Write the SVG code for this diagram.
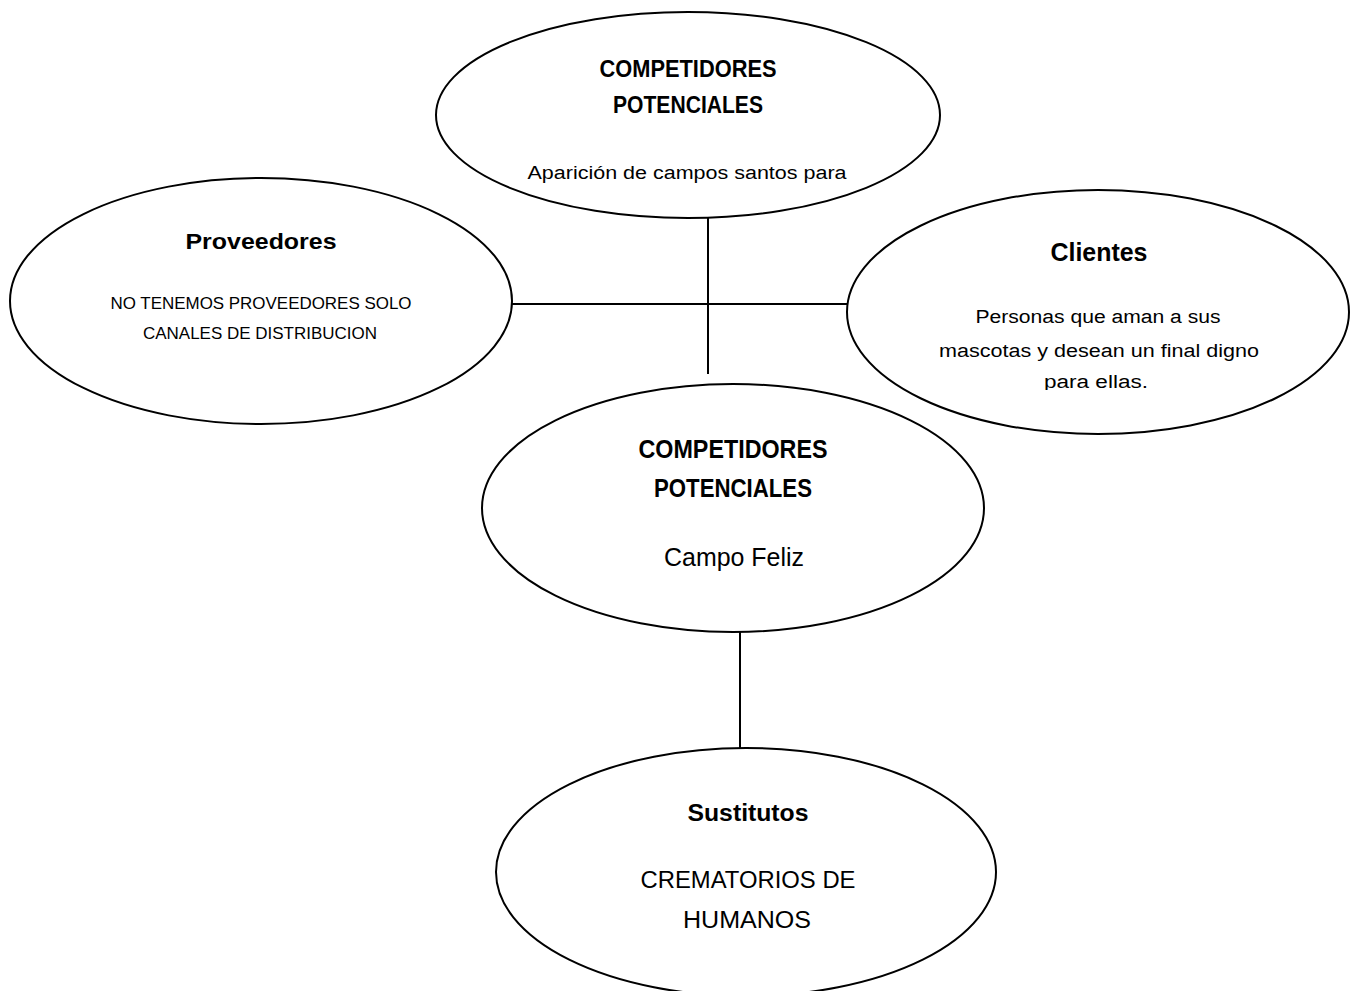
<svg xmlns="http://www.w3.org/2000/svg" width="1353" height="991" viewBox="0 0 1353 991">
<style>
.node ellipse{fill:#fff;stroke:#000;stroke-width:2}
.conn line{stroke:#000;stroke-width:2}
text{font-family:"Liberation Sans",Arial,sans-serif;fill:#000;text-anchor:middle}
.b{font-weight:bold}
</style>
<defs>
<clipPath id="clipCli"><rect x="840" y="180" width="513" height="210"/></clipPath>
</defs>
<rect width="1353" height="991" fill="#fff"/>
<g id="connectors" class="conn">
<line x1="708" y1="218" x2="708" y2="374"/>
<line x1="507" y1="304" x2="847" y2="304"/>
<line x1="740" y1="632" x2="740" y2="748"/>
</g>
<g id="top" class="node">
<ellipse cx="688" cy="115" rx="252" ry="103"/>
<text class="b" x="688" y="77" font-size="23" textLength="177" lengthAdjust="spacingAndGlyphs">COMPETIDORES</text>
<text class="b" x="688" y="113" font-size="23" textLength="150" lengthAdjust="spacingAndGlyphs">POTENCIALES</text>
<text x="687" y="179" font-size="18" textLength="319" lengthAdjust="spacingAndGlyphs">Aparición de campos santos para</text>
</g>
<g id="proveedores" class="node">
<ellipse cx="261" cy="301" rx="251" ry="123"/>
<text class="b" x="261" y="249" font-size="22" textLength="151" lengthAdjust="spacingAndGlyphs">Proveedores</text>
<text x="261" y="309" font-size="16.5" textLength="301" lengthAdjust="spacingAndGlyphs">NO TENEMOS PROVEEDORES SOLO</text>
<text x="260" y="339" font-size="16.5" textLength="234" lengthAdjust="spacingAndGlyphs">CANALES DE DISTRIBUCION</text>
</g>
<g id="clientes" class="node">
<ellipse cx="1098" cy="312" rx="251" ry="122"/>
<text class="b" x="1099" y="261" font-size="25" textLength="97" lengthAdjust="spacingAndGlyphs">Clientes</text>
<text x="1098" y="323" font-size="18" textLength="245" lengthAdjust="spacingAndGlyphs">Personas que aman a sus</text>
<text x="1099" y="357" font-size="18" textLength="320" lengthAdjust="spacingAndGlyphs">mascotas y desean un final digno</text>
<text x="1096" y="388" font-size="18" textLength="104" lengthAdjust="spacingAndGlyphs" clip-path="url(#clipCli)">para ellas.</text>
</g>
<g id="centro" class="node">
<ellipse cx="733" cy="508" rx="251" ry="124"/>
<text class="b" x="733" y="458" font-size="26" textLength="189" lengthAdjust="spacingAndGlyphs">COMPETIDORES</text>
<text class="b" x="733" y="497" font-size="26" textLength="158" lengthAdjust="spacingAndGlyphs">POTENCIALES</text>
<text x="734" y="566" font-size="25" textLength="140" lengthAdjust="spacingAndGlyphs">Campo Feliz</text>
</g>
<g id="sustitutos" class="node">
<ellipse cx="746" cy="872" rx="250" ry="124"/>
<text class="b" x="748" y="821" font-size="23" textLength="121" lengthAdjust="spacingAndGlyphs">Sustitutos</text>
<text x="748" y="888" font-size="24.5" textLength="215" lengthAdjust="spacingAndGlyphs">CREMATORIOS DE</text>
<text x="747" y="928" font-size="24.5" textLength="128" lengthAdjust="spacingAndGlyphs">HUMANOS</text>
</g>
</svg>
